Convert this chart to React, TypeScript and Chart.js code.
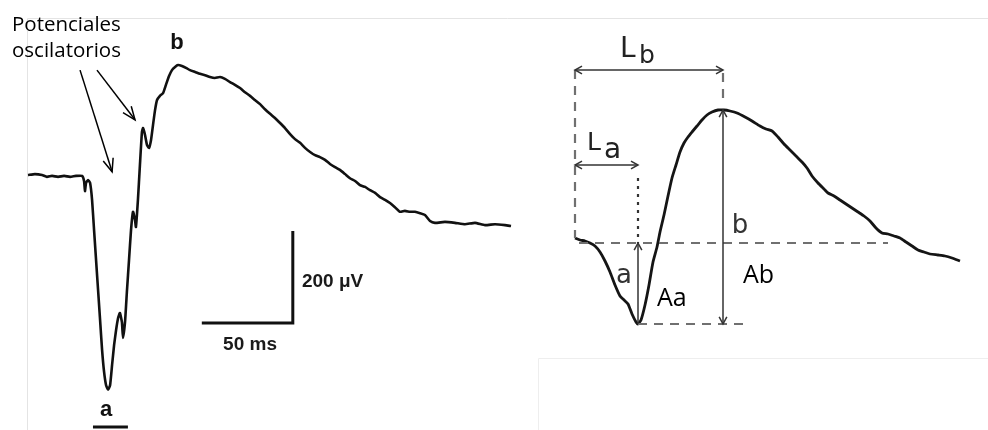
import React, { useEffect, useRef } from "react";
import { Chart, registerables } from "chart.js";

Chart.register(...registerables);

// ---------- Left panel: recorded ERG (time in ms, amplitude in µV) ----------
const ergTimeMs = [
  0, 3.8, 7.7, 10.4, 13.2, 16.5, 19.8, 23.1, 26.4, 29.7,
  30.8, 31.3, 31.9, 33.0, 34.1, 35.2, 36.3, 37.4, 38.5, 39.6,
  40.7, 41.8, 42.9, 44.0, 45.1, 46.2, 47.3, 48.4, 49.5, 50.5,
  51.6, 52.2, 53.3, 54.4, 55.5, 56.6, 57.7, 58.8, 59.3, 60.4,
  61.5, 62.6, 63.2, 64.3, 65.4, 66.5, 67.6, 68.7, 69.8, 70.9,
  72.5, 74.2, 75.8, 77.5, 79.1, 80.8, 82.4, 84.6, 86.8, 89.0,
  91.8, 94.5, 97.3, 100.0, 102.7, 105.5, 108.2, 111.0, 113.7, 116.5,
  119.2, 122.0, 124.7, 127.5, 130.2, 133.0, 135.7, 138.5, 141.2, 144.0,
  146.7, 149.5, 152.2, 155.0, 157.7, 160.4, 163.2, 165.9, 168.7, 171.4,
  174.2, 176.9, 179.7, 182.4, 185.2, 187.9, 190.7, 193.4, 196.2, 198.9,
  201.6, 204.4, 207.1, 209.9, 212.6, 215.4, 218.1, 220.9, 223.6, 229.1,
  234.6, 240.1, 245.6, 251.1, 256.6, 262.1, 265.4,
];
const ergAmpUv = [
  0, 2, 0, -4, -2, -4, -2, -4, -2, -2,
  -13, -35, -17, -11, -17, -54, -120, -185, -250, -315,
  -380, -428, -457, -467, -457, -413, -370, -337, -311, -300,
  -320, -354, -320, -250, -185, -120, -80, -98, -113, -54,
  22, 93, 102, 87, 65, 59, 76, 109, 141, 163,
  172, 178, 196, 215, 228, 235, 239, 237, 233, 228,
  224, 220, 217, 213, 211, 213, 209, 202, 196, 189,
  180, 172, 163, 154, 143, 133, 124, 113, 102, 89,
  78, 70, 59, 50, 43, 39, 33, 24, 17, 11,
  2, -7, -13, -22, -26, -33, -39, -48, -54, -61,
  -70, -80, -78, -80, -80, -83, -87, -100, -104, -102,
  -104, -107, -104, -109, -107, -109, -111,
];

// ---------- Right panel: schematic ERG with measurements ----------
const schemTimeMs = [
  0, 2.5, 5, 7.5, 10, 12.5, 15, 17.5, 20, 22.5,
  24.5, 26.5, 28.5, 30.5, 31.5, 33, 35, 37, 39, 41,
  42.5, 44.5, 46.5, 48.5, 50.5, 52.5, 54.5, 56.5, 58.5, 61,
  63.5, 66, 68.5, 71.5, 74.5, 77.5, 81, 85, 88.5, 92.5,
  95.5, 98.5, 101.5, 104.5, 107.5, 110.5, 113.5, 116, 118.5, 121.5,
  124.5, 126.5, 129.5, 132.5, 135.5, 138.5, 141.5, 144.5, 147.5, 150.5,
  153.5, 156.5, 159.5, 162.5, 165.5, 168.5, 171.5, 174.5, 177.5, 181.5,
  185, 188.5, 192.5,
];
const schemAmpUv = [
  10, 6, 4, 0, -6, -18, -36, -58, -84, -106,
  -114, -122, -142, -158, -162, -154, -124, -84, -38, -8,
  22, 56, 94, 130, 156, 182, 200, 212, 222, 234,
  246, 256, 262, 266, 266, 264, 260, 252, 244, 234,
  228, 224, 212, 198, 186, 174, 162, 150, 134, 120,
  108, 100, 94, 86, 78, 70, 62, 54, 44, 30,
  20, 18, 14, 10, 2, -6, -14, -18, -22, -24,
  -26, -30, -36,
];

// measurement values (schematic)
const latencyA = 31.5; // La, ms
const latencyB = 74; // Lb, ms
const troughA = -162; // a-wave trough, µV
const peakB = 266; // b-wave peak, µV

// scale bar (left)
const scaleBarMs = 50;
const scaleBarUv = 200;

// texts
const oscLabel = ["Potenciales", "oscilatorios"];
const scaleLabels = ["200 μV", "50 ms"];

function zip(xs: number[], ys: number[]) {
  const n = Math.min(xs.length, ys.length);
  const out: { x: number; y: number }[] = [];
  for (let i = 0; i < n; i++) out.push({ x: xs[i], y: ys[i] });
  return out;
}

function arrowHead(ctx: CanvasRenderingContext2D, fx: number, fy: number, tx: number, ty: number, len: number, ang: number) {
  const a = Math.atan2(ty - fy, tx - fx);
  ctx.beginPath();
  ctx.moveTo(tx - len * Math.cos(a - ang), ty - len * Math.sin(a - ang));
  ctx.lineTo(tx, ty);
  ctx.lineTo(tx - len * Math.cos(a + ang), ty - len * Math.sin(a + ang));
  ctx.stroke();
}

function line(ctx: CanvasRenderingContext2D, x1: number, y1: number, x2: number, y2: number) {
  ctx.beginPath();
  ctx.moveTo(x1, y1);
  ctx.lineTo(x2, y2);
  ctx.stroke();
}

const framePlugin = {
  id: "frame",
  beforeDatasetsDraw(chart: any) {
    const ctx: CanvasRenderingContext2D = chart.ctx;
    const X = (v: number) => chart.scales.x.getPixelForValue(v);
    const Y = (v: number) => chart.scales.y.getPixelForValue(v);
    const XR = (v: number) => chart.scales.xR.getPixelForValue(v);
    const YR = (v: number) => chart.scales.yR.getPixelForValue(v);
    ctx.save();
    ctx.strokeStyle = "#e4e4e4";
    ctx.lineWidth = 1;
    const fx = Math.round(X(-0.5)) + 0.5;
    const fy = Math.round(Y(341)) + 0.5;
    line(ctx, fx, fy, chart.width, fy);
    line(ctx, fx, fy, fx, chart.height);
    const bx = Math.round(XR(-18.5)) + 0.5;
    const by = Math.round(YR(-230)) + 0.5;
    ctx.strokeStyle = "#eeeeee";
    line(ctx, bx, by, chart.width, by);
    line(ctx, bx, by, bx, chart.height);
    ctx.restore();
  },
};

const annotationPlugin = {
  id: "ergAnnotations",
  afterDatasetsDraw(chart: any) {
    const ctx: CanvasRenderingContext2D = chart.ctx;
    const X = (v: number) => chart.scales.x.getPixelForValue(v);
    const Y = (v: number) => chart.scales.y.getPixelForValue(v);
    const XR = (v: number) => chart.scales.xR.getPixelForValue(v);
    const YR = (v: number) => chart.scales.yR.getPixelForValue(v);
    ctx.save();

    // ---- left panel ----
    ctx.fillStyle = "#000";
    ctx.font = '20.5px "Open Sans"';
    ctx.textAlign = "left";
    ctx.textBaseline = "alphabetic";
    ctx.fillText(oscLabel[0], X(-8.8), Y(313));
    ctx.fillText(oscLabel[1], X(-8.8), Y(256));

    ctx.strokeStyle = "#000";
    ctx.lineWidth = 1.5;
    // arrows to oscillatory potentials
    const arrows = [
      [28.6, 228, 46.2, 7],
      [37.9, 228, 58.8, 120],
    ];
    arrows.forEach(([x1, y1, x2, y2]) => {
      const p1x = X(x1), p1y = Y(y1), p2x = X(x2), p2y = Y(y2);
      line(ctx, p1x, p1y, p2x, p2y);
      arrowHead(ctx, p1x, p1y, p2x, p2y, 14, 0.38);
    });

    ctx.fillStyle = "#111";
    ctx.font = 'bold 22px "Liberation Sans"';
    ctx.textAlign = "center";
    ctx.fillText("b", X(81.9), Y(274));
    ctx.fillText("a", X(42.9), Y(-524));

    // a-wave bar
    ctx.strokeStyle = "#111";
    ctx.lineWidth = 3;
    line(ctx, X(35.7), Y(-548), X(54.9), Y(-548));

    // scale bar
    const sbx0 = 95.5;
    const sby0 = -322;
    ctx.lineWidth = 3;
    ctx.lineJoin = "miter";
    ctx.beginPath();
    ctx.moveTo(X(sbx0), Y(sby0));
    ctx.lineTo(X(sbx0 + scaleBarMs), Y(sby0));
    ctx.lineTo(X(sbx0 + scaleBarMs), Y(sby0 + scaleBarUv));
    ctx.stroke();

    ctx.font = 'bold 19px "Liberation Sans"';
    ctx.textAlign = "left";
    ctx.fillStyle = "#1a1a1a";
    ctx.fillText(scaleLabels[0], X(150.5), Y(-243));
    ctx.textAlign = "center";
    ctx.fillText(scaleLabels[1], X(122), Y(-380));

    // ---- right panel ----
    ctx.strokeStyle = "#707070";
    ctx.lineWidth = 2.2;
    ctx.setLineDash([9, 7]);
    line(ctx, XR(2), YR(0), XR(156.5), YR(0)); // baseline
    line(ctx, XR(latencyA), YR(troughA), XR(84), YR(troughA)); // trough level
    line(ctx, XR(0), YR(346), XR(0), YR(10)); // stimulus onset
    line(ctx, XR(latencyB), YR(340), XR(latencyB), YR(284)); // b-peak latency
    ctx.strokeStyle = "#333";
    ctx.setLineDash([3, 5]);
    line(ctx, XR(latencyA), YR(130), XR(latencyA), YR(0)); // a-trough latency
    ctx.setLineDash([]);

    ctx.strokeStyle = "#333";
    ctx.lineWidth = 1.5;
    const dbl = (x1: number, y1: number, x2: number, y2: number, h1: boolean, h2: boolean) => {
      line(ctx, x1, y1, x2, y2);
      if (h2) arrowHead(ctx, x1, y1, x2, y2, 8, 0.5);
      if (h1) arrowHead(ctx, x2, y2, x1, y1, 8, 0.5);
    };
    dbl(XR(0), YR(346), XR(latencyB), YR(346), true, true); // Lb
    dbl(XR(0), YR(156), XR(latencyA), YR(156), true, true); // La
    dbl(XR(latencyA), YR(troughA), XR(latencyA), YR(0), false, true); // a amplitude
    dbl(XR(latencyB), YR(troughA), XR(latencyB), YR(peakB), true, true); // b amplitude

    ctx.fillStyle = "#222";
    ctx.textAlign = "left";
    ctx.font = '28px "DejaVu Sans"';
    ctx.fillText("L", XR(22.5), YR(372));
    ctx.font = '25px "DejaVu Sans"';
    ctx.fillText("b", XR(32), YR(360));
    ctx.font = '25px "DejaVu Sans"';
    ctx.fillText("L", XR(6), YR(186));
    ctx.font = '28px "DejaVu Sans"';
    ctx.fillText("a", XR(14.5), YR(170));
    ctx.fillStyle = "#333";
    ctx.font = '26px "DejaVu Sans"';
    ctx.textAlign = "center";
    ctx.fillText("a", XR(24.5), YR(-80));
    ctx.fillText("b", XR(82.5), YR(20));

    ctx.fillStyle = "#000";
    ctx.textAlign = "left";
    ctx.font = '25px "Open Sans"';
    ctx.fillText("Aa", XR(41), YR(-126));
    ctx.fillText("Ab", XR(84), YR(-80));

    ctx.restore();
  },
};

export default function App() {
  const ref = useRef<HTMLCanvasElement | null>(null);

  useEffect(() => {
    if (!ref.current) return;
    const chart = new Chart(ref.current, {
      type: "scatter",
      data: {
        datasets: [
          {
            data: zip(ergTimeMs, ergAmpUv),
            xAxisID: "x",
            yAxisID: "y",
            showLine: true,
            borderColor: "#111",
            borderWidth: 2.6,
            pointRadius: 0,
            tension: 0.15,
            borderJoinStyle: "round",
          },
          {
            data: zip(schemTimeMs, schemAmpUv),
            xAxisID: "xR",
            yAxisID: "yR",
            showLine: true,
            borderColor: "#151515",
            borderWidth: 2.8,
            pointRadius: 0,
            tension: 0.2,
            borderJoinStyle: "round",
          },
        ],
      },
      options: {
        responsive: false,
        animation: false,
        events: [],
        layout: { padding: 0 },
        plugins: { legend: { display: false }, tooltip: { enabled: false } },
        scales: {
          x: { type: "linear", display: false, min: -15.385, max: 527.47 },
          y: { type: "linear", display: false, min: -554.35, max: 380.43 },
          xR: { type: "linear", display: false, min: -287.5, max: 206.5 },
          yR: { type: "linear", display: false, min: -374, max: 486 },
        },
      },
      plugins: [framePlugin, annotationPlugin],
    });
    return () => chart.destroy();
  }, []);

  return (
    <div style={{ position: "fixed", left: 0, top: 0, width: 988, height: 430, background: "#fff" }}>
      <canvas ref={ref} width={988} height={430} style={{ display: "block" }} />
    </div>
  );
}
